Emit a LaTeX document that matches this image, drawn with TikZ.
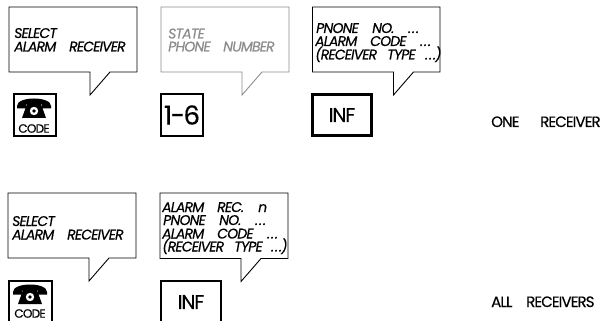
\documentclass[tikz,border=0pt]{standalone}
\usepackage{fontspec}
\setmainfont{Poppins}
\newfontfamily\bubfont[LetterSpace=-6,FakeBold=0.35,ItalicFont={Poppins Italic},ItalicFeatures={FakeBold=0.35,LetterSpace=-6}]{Poppins}
\newfontfamily\keyfont[LetterSpace=-6,FakeBold=0.4]{Poppins}
\definecolor{fade}{gray}{0.55}
\newcommand{\bubble}[5][black]{%
  \draw[#1,line width=0.9pt,line join=miter] (#2,#3) -- (#4,#3) -- (#4,#5)
    -- ({#2+101},#5) -- ({#2+81},{#5+23}) -- ({#2+81},#5) -- (#2,#5) -- cycle;}
\newcommand{\phoneicon}[2]{%
  \begin{scope}[shift={(#1,#2)}]
    \fill[black] (1,9) .. controls (1,-1) and (35,-1) .. (35,9) -- (35,11.5) -- (26,11.5) -- (26,7.5) -- (10,7.5) -- (10,11.5) -- (1,11.5) -- cycle;
    \fill[black] (11,7) -- (25,7) -- (30,21) -- (6,21) -- cycle;
    \fill[white] (18,14) circle (4.2);
    \fill[black] (18,14) circle (1.8);
  \end{scope}}
\newcommand{\tabw}[2]{\makebox[#1pt][l]{#2}}
\newcommand{\dts}{.\kern1pt.\kern1pt.}
\tikzset{
  btext/.style={inner sep=0pt,anchor=base west,font=\bubfont\itshape\fontsize{14}{14}\selectfont},
  key/.style={draw=black,line width=2.2pt,fill=white,inner sep=0pt,font=\keyfont},
  side/.style={inner sep=0pt,anchor=base west,font=\keyfont\fontsize{15}{15}\selectfont}
}
\begin{document}
\begin{tikzpicture}[x=1pt,y=-1pt]
\useasboundingbox (0,0) rectangle (606,321);
% bubbles
\bubble{9}{7}{137}{72}
\bubble[fade]{161}{7}{289}{72}
\bubble{312.5}{7}{440}{72}
\bubble{8}{193}{136}{258}
\bubble{160}{193}{288}{258.5}
% bubble texts
\node[btext] (t1a) at (14,38) {SELECT};
\node[btext] (t1b) at (14,51.5) {\tabw{55}{ALARM}RECEIVER};
\node[btext,text=fade] (t2a) at (168,38.5) {STATE};
\node[btext,text=fade] (t2b) at (168,51.5) {\tabw{55}{PHONE}NUMBER};
\node[btext] (t3a) at (316,33) {\tabw{56}{PNONE}\tabw{36}{NO.}\dts};
\node[btext] (t3b) at (315,46) {\tabw{55}{ALARM}\tabw{50}{CODE}\dts};
\node[btext] (t3c) at (315,59.5) {\tabw{72}{(RECEIVER}\tabw{38}{TYPE}\dts)};
\node[btext] (t4a) at (12,226) {SELECT};
\node[btext] (t4b) at (12,239.5) {\tabw{55}{ALARM}RECEIVER};
\node[btext] (t5a) at (162,212) {\tabw{55}{ALARM}\tabw{41}{REC.}n};
\node[btext] (t5b) at (163,225) {\tabw{56}{PNONE}\tabw{36}{NO.}\dts};
\node[btext] (t5c) at (162,238.5) {\tabw{55}{ALARM}\tabw{50}{CODE}\dts};
\node[btext] (t5d) at (162,251.5) {\tabw{72}{(RECEIVER}\tabw{37}{TYPE}\dts)};
% keys
\node[key,minimum width=42pt,minimum height=42pt] (k1) at (35,115) {};
\phoneicon{16}{97}
\node[inner sep=0pt,font=\keyfont\fontsize{12}{12}\selectfont] (c1) at (34,128.5) {CODE};
\node[key,minimum width=42pt,minimum height=42pt,font=\keyfont\fontsize{26}{26}\selectfont] (k2) at (182,115) {1-6};
\node[key,minimum width=59pt,minimum height=41pt,font=\keyfont\fontsize{20}{20}\selectfont] (k3) at (342,115) {INF};
\begin{scope}
\clip (0,262) rectangle (606,321);
\draw[black,line width=2.2pt,fill=white] (9,281) rectangle (52,330);
\draw[black,line width=2.2pt,fill=white] (161,281) rectangle (221,330);
\end{scope}
\phoneicon{12}{283}
\node[inner sep=0pt,font=\keyfont\fontsize{12}{12}\selectfont] (c2) at (30,313.5) {CODE};
\node[inner sep=0pt,font=\keyfont\fontsize{20}{20}\selectfont] (k4) at (191,302) {INF};
% side labels
\node[side] (s1) at (491,127) {\tabw{49}{ONE}RECEIVER};
\node[side] (s2) at (491,307) {\tabw{35}{ALL}RECEIVERS};
\end{tikzpicture}
\end{document}
